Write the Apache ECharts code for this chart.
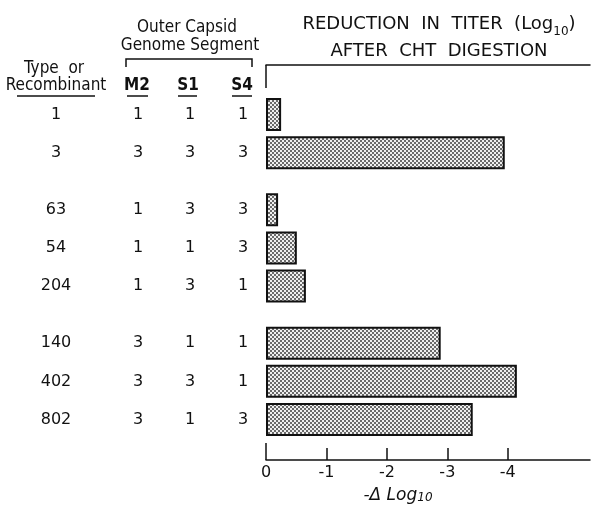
<!DOCTYPE html>
<html>
<head>
<meta charset="utf-8">
<script src="https://cdn.jsdelivr.net/npm/echarts@6/dist/echarts.min.js"></script>
<style>
  html, body { margin: 0; padding: 0; background: #fff; }
  #chart { width: 592px; height: 517px; }
</style>
</head>
<body>
<div id="chart"></div>
<script>
// ---- data ----
const groups = [['1', '3'], ['63', '54', '204'], ['140', '402', '802']];
const m2 = ['1', '3', '1', '1', '1', '3', '3', '3'];
const s1 = ['1', '3', '3', '1', '3', '1', '3', '1'];
const s4 = ['1', '3', '3', '3', '1', '1', '1', '3'];
const reduction = [0.25, 3.95, 0.2, 0.51, 0.66, 2.89, 4.15, 3.42];
const xTicks = [0, 1, 2, 3, 4];

// ---- build category slots (spacer slots between rows and groups) ----
const types = [];
const slotRow = [];
groups.forEach((g, gi) => {
  g.forEach((t, ti) => {
    if (gi > 0 && ti === 0) { slotRow.push(-1); }
    if (slotRow.length > 0) { slotRow.push(-1); }
    slotRow.push(types.length);
    types.push(t);
  });
});
const col = arr => slotRow.map(r => (r < 0 ? '' : arr[r]));
const barData = slotRow.map(r => (r < 0 ? '-' : reduction[r]));

// fill pattern
const pat = document.createElement('canvas');
pat.width = 4; pat.height = 4;
const pc = pat.getContext('2d');
pc.fillStyle = '#efefef'; pc.fillRect(0, 0, 4, 4);
pc.fillStyle = '#6a6a6a'; pc.fillRect(0, 0, 2, 2); pc.fillRect(2, 2, 2, 2);

const INK = '#111';
const SANS = "'DejaVu Sans', Verdana, sans-serif";
const NARROW = "'Liberation Sans Narrow', 'DejaVu Sans Condensed', 'Roboto Condensed', Roboto, sans-serif";

function catAxis(labels, offset) {
  return {
    type: 'category', position: 'left', inverse: true, offset: offset,
    data: labels,
    axisLine: { show: false }, axisTick: { show: false }, splitLine: { show: false },
    axisLabel: { show: true, interval: 0, align: 'center', margin: 10,
      color: INK, fontFamily: SANS, fontSize: 16 }
  };
}

const chart = echarts.init(document.getElementById('chart'), null, { renderer: 'canvas' });
const valueBase = { type: 'value', min: 0, max: 5.36, splitLine: { show: false } };

chart.setOption({
  backgroundColor: '#fff',
  animation: false,
  title: {
    left: 434, top: 6, textAlign: 'center',
    text: '{a|REDUCTION  IN  TITER  (Log}{s|10}{a|)}\n{a|AFTER  CHT  DIGESTION}',
    textStyle: {
      lineHeight: 27, fontWeight: 'normal',
      rich: {
        a: { fontFamily: SANS, fontSize: 18, fontWeight: 'normal', color: INK, lineHeight: 27 },
        s: { fontFamily: SANS, fontSize: 12, fontWeight: 'normal', color: INK, verticalAlign: 'bottom', lineHeight: 14 }
      }
    }
  },
  grid: { left: 266, right: 2, top: 105, bottom: 88, outerBoundsMode: 'none', containLabel: false },
  xAxis: [
    Object.assign({}, valueBase, {
      position: 'bottom', offset: 31,
      axisLine: { show: true, lineStyle: { color: INK, width: 1.5 } },
      axisTick: { show: true, inside: true, length: 12, customValues: xTicks, lineStyle: { color: INK, width: 1.5 } },
      axisLabel: { show: true, customValues: xTicks, margin: 5, color: INK, fontFamily: SANS, fontSize: 16,
        formatter: v => (v === 0 ? '0' : '-' + v) },
      name: '-Δ Log{s|10}', nameLocation: 'middle', nameGap: 27,
      nameTextStyle: { fontFamily: SANS, fontSize: 17, fontStyle: 'italic', color: INK, padding: [0, 60, 0, 0],
        rich: { s: { fontFamily: SANS, fontSize: 12, fontStyle: 'italic', color: INK, verticalAlign: 'bottom', lineHeight: 14 } } }
    }),
    Object.assign({}, valueBase, {
      position: 'bottom', offset: 31,
      axisLine: { show: false },
      axisTick: { show: true, inside: true, length: 17, customValues: [0], lineStyle: { color: INK, width: 1.5 } },
      axisLabel: { show: false }
    }),
    Object.assign({}, valueBase, {
      position: 'top', offset: 40,
      axisLine: { show: true, lineStyle: { color: INK, width: 1.5 } },
      axisTick: { show: true, inside: true, length: 23, customValues: [0], lineStyle: { color: INK, width: 1.5 } },
      axisLabel: { show: false }
    })
  ],
  yAxis: [
    catAxis(col(types), 200),
    catAxis(col(m2), 118),
    catAxis(col(s1), 66),
    catAxis(col(s4), 13)
  ],
  series: [{
    type: 'bar', xAxisIndex: 0, yAxisIndex: 0, clip: false,
    data: barData, barWidth: 33,
    itemStyle: { color: { image: pat, repeat: 'repeat' }, borderColor: INK, borderWidth: 2 }
  }],
  graphic: [
    { type: 'text', x: 187, y: 28, style: { text: 'Outer Capsid', align: 'center', verticalAlign: 'middle', font: '17px ' + NARROW, fill: INK } },
    { type: 'text', x: 190, y: 46, style: { text: 'Genome Segment', align: 'center', verticalAlign: 'middle', font: '17px ' + NARROW, fill: INK } },
    { type: 'polyline', shape: { points: [[126, 67], [126, 59], [252, 59], [252, 67]] }, style: { stroke: INK, lineWidth: 1.5, fill: null } },
    { type: 'text', x: 54, y: 69, style: { text: 'Type  or', align: 'center', verticalAlign: 'middle', font: '17px ' + NARROW, fill: INK } },
    { type: 'text', x: 56, y: 86, style: { text: 'Recombinant', align: 'center', verticalAlign: 'middle', font: '17px ' + NARROW, fill: INK } },
    { type: 'line', shape: { x1: 17, y1: 96, x2: 95, y2: 96 }, style: { stroke: INK, lineWidth: 1.5 } },
    { type: 'text', x: 137, y: 86, style: { text: 'M2', align: 'center', verticalAlign: 'middle', font: 'bold 17px ' + NARROW, fill: INK } },
    { type: 'line', shape: { x1: 127, y1: 96, x2: 148, y2: 96 }, style: { stroke: INK, lineWidth: 1.5 } },
    { type: 'text', x: 188, y: 86, style: { text: 'S1', align: 'center', verticalAlign: 'middle', font: 'bold 17px ' + NARROW, fill: INK } },
    { type: 'line', shape: { x1: 178, y1: 96, x2: 197, y2: 96 }, style: { stroke: INK, lineWidth: 1.5 } },
    { type: 'text', x: 242, y: 86, style: { text: 'S4', align: 'center', verticalAlign: 'middle', font: 'bold 17px ' + NARROW, fill: INK } },
    { type: 'line', shape: { x1: 232, y1: 96, x2: 252, y2: 96 }, style: { stroke: INK, lineWidth: 1.5 } }
  ]
});
</script>
</body>
</html>
